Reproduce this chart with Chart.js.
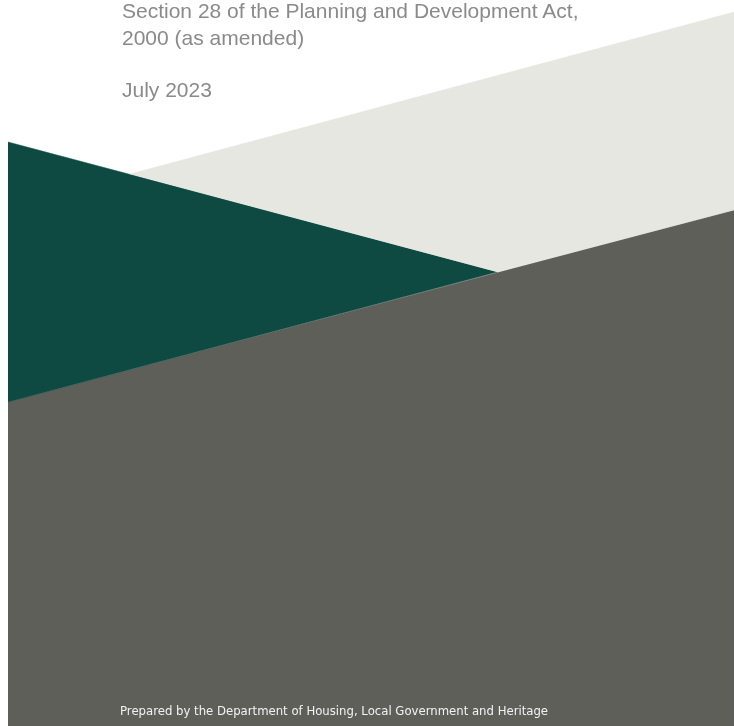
<!DOCTYPE html>
<html>
<head>
<meta charset="utf-8">
<script src="https://cdn.jsdelivr.net/npm/chart.js@4"></script>
<style>
  html, body { margin: 0; padding: 0; background: #fff; }
  #wrap { position: relative; width: 734px; height: 726px; overflow: hidden; }
  #cover { position: absolute; left: 0; top: 0; }
  .txt { position: absolute; font-family: "Liberation Sans", Arial, sans-serif; white-space: nowrap; line-height: 24px; }
  .head { color: #8a8a8a; font-size: 21px; left: 122px; }
  #foot { color: #f2f2f2; left: 120px; top: 704px; font-family: "DejaVu Sans", sans-serif; font-size: 11.7px; line-height: 14px; }
</style>
</head>
<body>
<div id="wrap">
  <canvas id="cover" width="734" height="726"></canvas>
  <div class="txt head" style="top:-1px">Section 28 of the Planning and Development Act,</div>
  <div class="txt head" style="top:26px">2000 (as amended)</div>
  <div class="txt head" style="top:78px">July 2023</div>
  <div class="txt" id="foot">Prepared by the Department of Housing, Local Government and Heritage</div>
</div>
<script>
// vertices of the cover shapes (page units)
const lightX = [130, 734, 734, 497];
const lightY = [174, 12, 210, 272];
const greenX = [8, 497, 8];
const greenY = [142, 272, 402];
const darkX = [8, 734, 734, 8];
const darkY = [402, 210, 726, 726];

const toPts = (xs, ys) => xs.map((x, i) => ({ x: x, y: ys[i] }));

const shape = (xs, ys, color) => ({
    data: toPts(xs, ys),
    showLine: true,
    fill: 'shape',
    backgroundColor: color,
    borderColor: color,
    borderWidth: 0.5,
    pointRadius: 0,
    tension: 0
});

// grafico
new Chart(document.getElementById('cover'), {
    type: 'scatter',
    data: {
        datasets: [
            shape(lightX, lightY, '#e7e7e2'),
            shape(greenX, greenY, '#0e4a42'),
            shape(darkX, darkY, '#5f5f5a')
        ]
    },
    options: {
        responsive: false,
        animation: false,
        layout: { padding: 0 },
        plugins: { legend: { display: false }, tooltip: { enabled: false } },
        scales: {
            x: { type: 'linear', min: 0, max: 734, display: false },
            y: { type: 'linear', min: 0, max: 726, reverse: true, display: false }
        }
    }
});
</script>
</body>
</html>
